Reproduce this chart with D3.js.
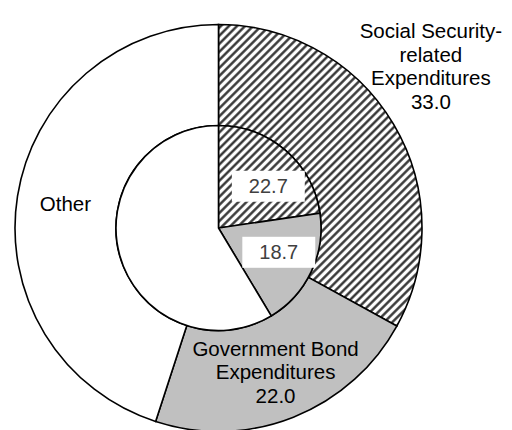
<!DOCTYPE html>
<html>
<head>
<meta charset="utf-8">
<script src="https://cdn.jsdelivr.net/npm/d3@7"></script>
<style>
  html, body { margin: 0; padding: 0; background: #fff; }
  svg { display: block; }
  text { font-family: "Liberation Sans", Arial, sans-serif; }
</style>
</head>
<body>
<svg id="chart" width="512" height="430"></svg>
<script>
// Outer ring: share of expenditures (%)
const outerCategories = ["Social Security-\nrelated\nExpenditures", "Government Bond\nExpenditures", "Other"];
const outerValues = [33.0, 22.0, 45.0];
// Inner pie: same categories, earlier period (%)
const innerCategories = ["Social Security-related Expenditures", "Government Bond Expenditures", "Other"];
const innerValues = [22.7, 18.7, 58.6];
const innerLabelled = [true, true, false];

const W = 512, H = 430;
const cx = 218.5, cy = 228;
const rInner = 102.5, rOuter = 203.5;

const svg = d3.select("#chart");

// diagonal hatch for the social security slices
const defs = svg.append("defs");
const pat = defs.append("pattern")
  .attr("id", "hatch")
  .attr("patternUnits", "userSpaceOnUse")
  .attr("width", 5.7).attr("height", 5.7)
  .attr("patternTransform", "rotate(45)");
pat.append("rect").attr("width", 5.7).attr("height", 5.7).attr("fill", "#fff");
pat.append("line")
  .attr("x1", 1.4).attr("y1", 0).attr("x2", 1.4).attr("y2", 5.7)
  .attr("stroke", "#2a2a2a").attr("stroke-width", 2.3);

const fills = ["url(#hatch)", "#c0c0c0", "#ffffff"];

const pie = d3.pie().sort(null).value(d => d);
const g = svg.append("g").attr("transform", `translate(${cx},${cy})`);

// outer ring
const outerArc = d3.arc().innerRadius(rInner).outerRadius(rOuter);
const outerData = pie(outerValues);
g.selectAll("path.outer")
  .data(outerData)
  .join("path")
  .attr("class", "outer")
  .attr("d", outerArc)
  .attr("fill", (d, i) => fills[i])
  .attr("stroke", "#000")
  .attr("stroke-width", 1.6);

// inner pie
const innerArc = d3.arc().innerRadius(0).outerRadius(rInner);
const innerData = pie(innerValues);
g.selectAll("path.inner")
  .data(innerData)
  .join("path")
  .attr("class", "inner")
  .attr("d", innerArc)
  .attr("fill", (d, i) => fills[i])
  .attr("stroke", "#000")
  .attr("stroke-width", 1.6);

// outer ring labels
const fs = 20.5, lh = 23.5;
const insideArc = d3.arc().innerRadius(155).outerRadius(155);
const outsideArc = d3.arc().innerRadius(267).outerRadius(267);
outerData.forEach((d, i) => {
  const lines = (outerCategories[i] + "\n" + d3.format(".1f")(outerValues[i])).split("\n");
  const name = outerCategories[i];
  let pos;
  if (i === 0) {
    // too narrow inside the ring: placed outside, upper right
    const mid = (d.startAngle + d.endAngle) / 2 - 0.117;
    pos = outsideArc.centroid({startAngle: mid, endAngle: mid});
  } else if (name === "Other") {
    pos = insideArc.centroid(d);
    lines.pop();
  } else {
    pos = insideArc.centroid(d);
  }
  const t = g.append("text")
    .attr("text-anchor", "middle")
    .attr("font-size", fs)
    .attr("fill", "#000");
  const y0 = pos[1] - (lines.length - 1) * lh / 2 + fs * 0.35;
  lines.forEach((ln, k) => {
    t.append("tspan").attr("x", pos[0]).attr("y", y0 + k * lh).text(ln);
  });
});

// inner pie value labels in white boxes
const labelArc = d3.arc().innerRadius(65).outerRadius(65);
const angleNudge = [0.16, -0.06, 0];
innerData.forEach((d, i) => {
  if (!innerLabelled[i]) return;
  const mid = (d.startAngle + d.endAngle) / 2 + angleNudge[i];
  const p = labelArc.centroid({startAngle: mid, endAngle: mid});
  const lg = g.append("g");
  const box = lg.append("rect").attr("fill", "#fff");
  const t = lg.append("text")
    .attr("x", p[0]).attr("y", p[1] + 20 * 0.35)
    .attr("text-anchor", "middle")
    .attr("font-size", 20)
    .attr("fill", "#404040")
    .text(d3.format(".1f")(innerValues[i]));
  const bb = t.node().getBBox();
  box.attr("x", bb.x - 17).attr("y", p[1] - 15.5)
     .attr("width", bb.width + 34).attr("height", 31);
});
</script>
</body>
</html>
